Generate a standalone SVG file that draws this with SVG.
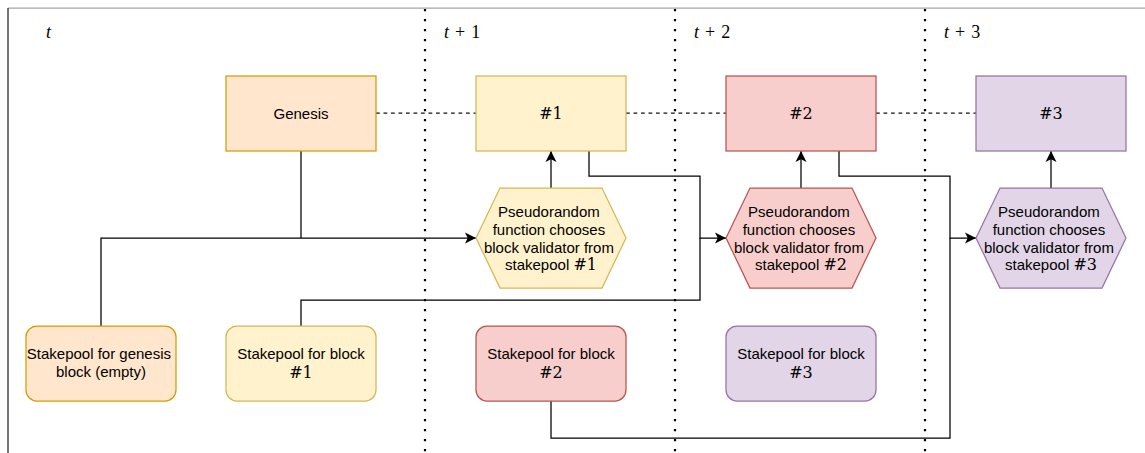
<svg xmlns="http://www.w3.org/2000/svg" width="1145" height="453" viewBox="0 0 1145 453">
  <style>
    .sans { font-family: "Liberation Sans", Arial, Helvetica, sans-serif; font-size: 15px; fill: #000; }
    .math { font-family: "DejaVu Serif", "Liberation Serif", serif; font-size: 16px; fill: #000; }
    .time { font-family: "Liberation Serif", "Times New Roman", serif; font-size: 18px; fill: #000; }
    .orange { fill: #ffe6cc; stroke: #d79b00; stroke-width: 1.25; }
    .yellow { fill: #fff2cc; stroke: #d6b656; stroke-width: 1.25; }
    .red { fill: #f8cecc; stroke: #b85450; stroke-width: 1.25; }
    .purple { fill: #e1d5e7; stroke: #9673a6; stroke-width: 1.25; }
    .wire { fill: none; stroke: #000; stroke-width: 1.25; }
    .chain { fill: none; stroke: #111; stroke-width: 1.25; stroke-dasharray: 3.75 3.75; }
    .slot { fill: none; stroke: #000; stroke-width: 2.2; stroke-dasharray: 2.2 7.8; }
  </style>
  <defs>
    <marker id="arrow" markerUnits="userSpaceOnUse" markerWidth="12" markerHeight="12" refX="11" refY="5.5" orient="auto" viewBox="0 0 12 11">
      <path d="M11,5.5 L0,0 L2.75,5.5 L0,11 Z" fill="#000"/>
    </marker>
  </defs>

  <rect width="1145" height="453" fill="#fff"/>

  <!-- outer frame -->
  <g id="frame">
    <line x1="8" y1="8" x2="1145" y2="8" stroke="#a6a6a6" stroke-width="1.25"/>
    <line x1="8" y1="8" x2="8" y2="453" stroke="#222" stroke-width="1.25"/>
  </g>

  <!-- time slot separators -->
  <g id="slots">
    <line class="slot" x1="425" y1="9" x2="425" y2="453"/>
    <line class="slot" x1="675" y1="9" x2="675" y2="453"/>
    <line class="slot" x1="925" y1="9" x2="925" y2="453"/>
  </g>

  <!-- time labels -->
  <g id="labels">
    <text class="time" x="46" y="38" font-style="italic">t</text>
    <text class="time" x="444" y="38"><tspan font-style="italic">t</tspan><tspan dx="6">+</tspan><tspan dx="6">1</tspan></text>
    <text class="time" x="694" y="38"><tspan font-style="italic">t</tspan><tspan dx="6">+</tspan><tspan dx="6">2</tspan></text>
    <text class="time" x="944" y="38"><tspan font-style="italic">t</tspan><tspan dx="6">+</tspan><tspan dx="6">3</tspan></text>
  </g>

  <!-- connectors -->
  <g id="connectors">
    <path class="chain" d="M376,113 H476"/>
    <path class="chain" d="M626,113 H726"/>
    <path class="chain" d="M876,113 H976"/>

    <path class="wire" d="M101,326 V238 H476" marker-end="url(#arrow)"/>
    <path class="wire" d="M301,151 V238"/>
    <path class="wire" d="M551,188 V151" marker-end="url(#arrow)"/>

    <path class="wire" d="M589,151 V176 H700 V238 H726" marker-end="url(#arrow)"/>
    <path class="wire" d="M301,326 V300 H700 V238"/>
    <path class="wire" d="M801,188 V151" marker-end="url(#arrow)"/>

    <path class="wire" d="M839,151 V176 H950 V238 H976" marker-end="url(#arrow)"/>
    <path class="wire" d="M551,401 V438 H950 V238"/>
    <path class="wire" d="M1051,188 V151" marker-end="url(#arrow)"/>
  </g>

  <!-- blocks -->
  <g id="block-genesis">
    <rect class="orange" x="226" y="76" width="150" height="75"/>
    <text class="sans" x="301" y="118.5" text-anchor="middle">Genesis</text>
  </g>
  <g id="block-1">
    <rect class="yellow" x="476" y="76" width="150" height="75"/>
    <text class="math" x="551" y="119" text-anchor="middle">#1</text>
  </g>
  <g id="block-2">
    <rect class="red" x="726" y="76" width="150" height="75"/>
    <text class="math" x="801" y="119" text-anchor="middle">#2</text>
  </g>
  <g id="block-3">
    <rect class="purple" x="976" y="76" width="150" height="75"/>
    <text class="math" x="1051" y="119" text-anchor="middle">#3</text>
  </g>

  <!-- validator selection -->
  <g id="select-1">
    <polygon class="yellow" points="476,238 500,188 602,188 626,238 602,288 500,288"/>
    <text class="sans" text-anchor="middle">
      <tspan x="551" y="217">Pseudorandom</tspan>
      <tspan x="551" y="235">function chooses</tspan>
      <tspan x="551" y="252.5">block validator from</tspan>
      <tspan x="551" y="270">stakepool <tspan class="math">#1</tspan></tspan>
    </text>
  </g>
  <g id="select-2">
    <polygon class="red" points="726,238 750,188 852,188 876,238 852,288 750,288"/>
    <text class="sans" text-anchor="middle">
      <tspan x="801" y="217">Pseudorandom</tspan>
      <tspan x="801" y="235">function chooses</tspan>
      <tspan x="801" y="252.5">block validator from</tspan>
      <tspan x="801" y="270">stakepool <tspan class="math">#2</tspan></tspan>
    </text>
  </g>
  <g id="select-3">
    <polygon class="purple" points="976,238 1000,188 1102,188 1126,238 1102,288 1000,288"/>
    <text class="sans" text-anchor="middle">
      <tspan x="1051" y="217">Pseudorandom</tspan>
      <tspan x="1051" y="235">function chooses</tspan>
      <tspan x="1051" y="252.5">block validator from</tspan>
      <tspan x="1051" y="270">stakepool <tspan class="math">#3</tspan></tspan>
    </text>
  </g>

  <!-- stakepools -->
  <g id="pool-genesis">
    <rect class="orange" x="26" y="326" width="150" height="75" rx="11"/>
    <text class="sans" text-anchor="middle">
      <tspan x="101" y="359">Stakepool for genesis</tspan>
      <tspan x="101" y="377">block (empty)</tspan>
    </text>
  </g>
  <g id="pool-1">
    <rect class="yellow" x="226" y="326" width="150" height="75" rx="11"/>
    <text class="sans" x="301" y="359" text-anchor="middle">Stakepool for block</text>
    <text class="math" x="301" y="378" text-anchor="middle">#1</text>
  </g>
  <g id="pool-2">
    <rect class="red" x="476" y="326" width="150" height="75" rx="11"/>
    <text class="sans" x="551" y="359" text-anchor="middle">Stakepool for block</text>
    <text class="math" x="551" y="378" text-anchor="middle">#2</text>
  </g>
  <g id="pool-3">
    <rect class="purple" x="726" y="326" width="150" height="75" rx="11"/>
    <text class="sans" x="801" y="359" text-anchor="middle">Stakepool for block</text>
    <text class="math" x="801" y="378" text-anchor="middle">#3</text>
  </g>
</svg>
